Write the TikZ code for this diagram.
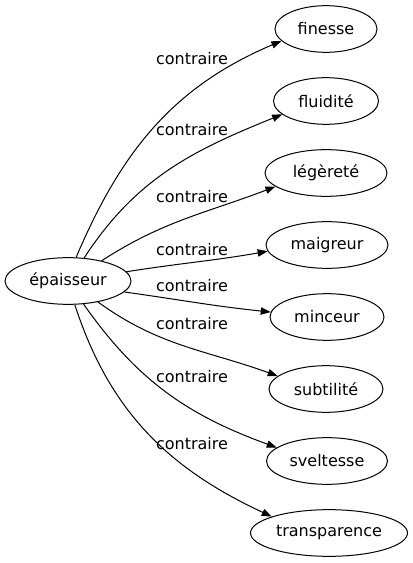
\documentclass[tikz,border=0pt]{standalone}
\usepackage{fontspec}
\setmainfont{DejaVu Sans}
\usetikzlibrary{shapes.geometric,arrows.meta}

\begin{document}
\begin{tikzpicture}[x=0.75pt,y=-0.75pt,
  font=\fontsize{12}{14}\selectfont,
  term/.style={draw, ellipse, line width=0.75pt, inner sep=0pt, minimum height=35pt, minimum width=#1*0.75pt},
  rel/.style={-{Triangle[length=7.5pt,width=5.5pt]}, line width=0.75pt},
  tag/.style={inner sep=0pt}]
\useasboundingbox (0,0) rectangle (412,563);

% Central word
\node[term=126] (epaisseur) at (68,281) {épaisseur};

% Opposite words
\node[term=102] (finesse) at (326,29) {finesse};
\node[term=105] (fluidite) at (326,101) {fluidité};
\node[term=122] (legerete) at (326,173) {légèreté};
\node[term=122] (maigreur) at (327,245) {maigreur};
\node[term=114] (minceur) at (327,317) {minceur};
\node[term=114] (subtilite) at (326,389) {subtilité};
\node[term=121] (sveltesse) at (327,461) {sveltesse};
\node[term=157] (transparence) at (329,533) {transparence};

% Curved links
\draw[rel] (epaisseur.71) to[out=67,in=203] (finesse.195);
\draw[rel] (epaisseur.55) to[out=57,in=202] (fluidite.197);
\draw[rel] (epaisseur.31) to[out=33,in=201] (legerete.195);
\draw[rel] (epaisseur.9) to[out=9,in=190] (maigreur.186);
\draw[rel] (epaisseur.-11) to[out=-8,in=174] (minceur.175);
\draw[rel] (epaisseur.-35) to[out=-36,in=160] (subtilite.165);
\draw[rel] (epaisseur.-56) to[out=-55,in=160] (sveltesse.165);
\draw[rel] (epaisseur.-74) to[out=-72,in=155] (transparence.164);

% Link labels
\node[tag] (tag1) at (192,59) {contraire};
\node[tag] (tag2) at (192,130) {contraire};
\node[tag] (tag3) at (192,197) {contraire};
\node[tag] (tag4) at (192,250) {contraire};
\node[tag] (tag5) at (192,286) {contraire};
\node[tag] (tag6) at (192,324) {contraire};
\node[tag] (tag7) at (192,377) {contraire};
\node[tag] (tag8) at (192,444) {contraire};
\end{tikzpicture}
\end{document}
